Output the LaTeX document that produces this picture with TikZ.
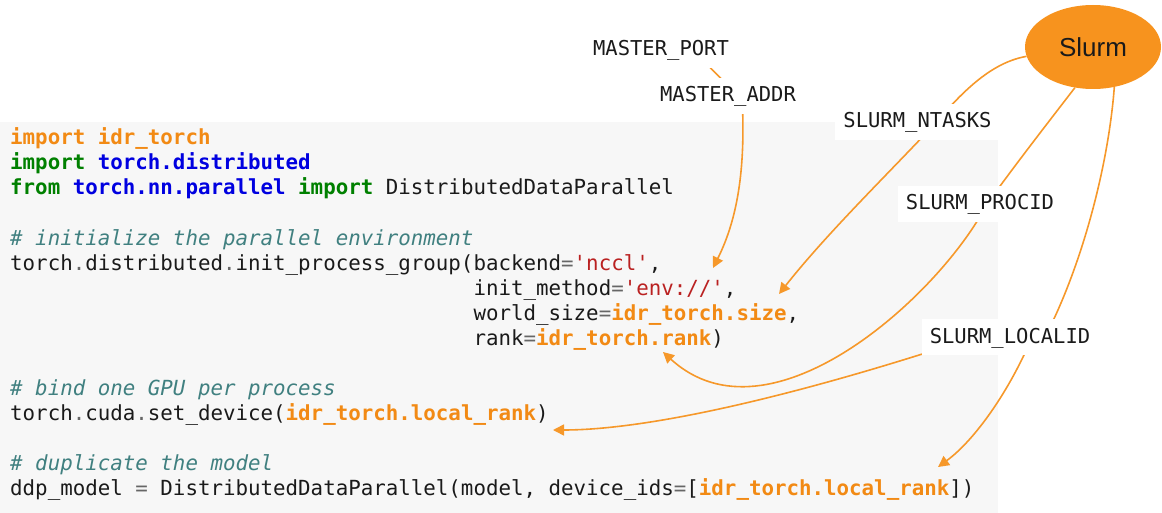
\documentclass[tikz,border=0pt]{standalone}
\usepackage{fontspec}
\setmainfont{Liberation Sans}
\setmonofont{DejaVu Sans Mono}
\usetikzlibrary{arrows.meta,shapes.geometric}
\definecolor{kwgreen}{HTML}{008000}
\definecolor{nsblue}{HTML}{0000E0}
\definecolor{cmteal}{HTML}{408080}
\definecolor{strred}{HTML}{BA2121}
\definecolor{hlorange}{RGB}{242,138,20}
\definecolor{opgray}{HTML}{666666}
\definecolor{codetext}{HTML}{1A1A1A}
\definecolor{codebg}{HTML}{F7F7F7}
\definecolor{slurmorange}{RGB}{247,147,30}
\definecolor{linkorange}{RGB}{246,152,42}
\newcommand\codekw[1]{{\color{kwgreen}\bfseries #1}}
\newcommand\codens[1]{{\color{nsblue}\bfseries #1}}
\newcommand\codecm[1]{{\color{cmteal}\itshape #1}}
\newcommand\codestr[1]{{\color{strred}#1}}
\newcommand\codehl[1]{{\color{hlorange}\bfseries #1}}
\newcommand\codeop[1]{{\color{opgray}#1}}
\newcommand\codeindent{\hphantom{torch.distributed.init\_process\_group(}}
\pgfdeclarelayer{bg}
\pgfdeclarelayer{lines}
\pgfsetlayers{bg,lines,main}
\tikzset{
  code/.style={anchor=base west, inner sep=0pt, font=\ttfamily\fontsize{20.8}{25}\selectfont, text=codetext},
  lbl/.style={anchor=base, fill=white, inner xsep=8pt, inner ysep=8pt, text height=16pt, text depth=4pt, font=\ttfamily\fontsize{20.5}{25}\selectfont, text=codetext},
  conn/.style={draw=linkorange, line width=1.6pt},
  arr/.style={-{Triangle[length=11pt,width=11pt]}},
}
\begin{document}
\begin{tikzpicture}[x=1pt,y=-1pt]
\useasboundingbox (0,0) rectangle (1162,513);
\begin{pgfonlayer}{bg}
\fill[codebg] (0,122) rectangle (998,513);
\end{pgfonlayer}

% code
\node[code] (l1)  at (10,145) {\codehl{import idr\_torch}};
\node[code] (l2)  at (10,170) {\codekw{import} \codens{torch.distributed}};
\node[code] (l3)  at (10,195) {\codekw{from} \codens{torch.nn.parallel} \codekw{import} DistributedDataParallel};
\node[code] (l5)  at (10,245) {\codecm{\# initialize the parallel environment}};
\node[code] (l6)  at (10,270) {torch\codeop{.}distributed\codeop{.}init\_process\_group(backend\codeop{=}\codestr{'nccl'},};
\node[code] (l7)  at (10,295) {\codeindent init\_method\codeop{=}\codestr{'env://'},};
\node[code] (l8)  at (10,320) {\codeindent world\_size\codeop{=}\codehl{idr\_torch.size},};
\node[code] (l9)  at (10,345) {\codeindent rank\codeop{=}\codehl{idr\_torch.rank})};
\node[code] (l11) at (10,395) {\codecm{\# bind one GPU per process}};
\node[code] (l12) at (10,420) {torch\codeop{.}cuda\codeop{.}set\_device(\codehl{idr\_torch.local\_rank})};
\node[code] (l14) at (10,470) {\codecm{\# duplicate the model}};
\node[code] (l15) at (10,495) {ddp\_model \codeop{=} DistributedDataParallel(model, device\_ids\codeop{=}[\codehl{idr\_torch.local\_rank}])};

% Slurm and labels
\node[ellipse, fill=slurmorange, minimum width=136pt, minimum height=84pt, inner sep=0pt,
      font=\fontsize{26}{30}\selectfont, text=codetext] (slurm) at (1093,47) {Slurm};
\node[lbl] (mport)   at (661,56)   {MASTER\_PORT};
\node[lbl] (maddr)   at (728,102)  {MASTER\_ADDR};
\node[lbl] (ntasks)  at (917.5,128) {SLURM\_NTASKS};
\node[lbl] (procid)  at (980,210)  {SLURM\_PROCID};
\node[lbl] (localid) at (1010,343) {SLURM\_LOCALID};

% targets
\coordinate (t_nccl)  at (713,268);
\coordinate (t_size)  at (779,294);
\coordinate (t_rank)  at (663,352);
\coordinate (t_set)   at (553,430);
\coordinate (t_local) at (938,467);

\begin{pgfonlayer}{lines}
\draw[conn] ([xshift=32pt]mport.center) -- ([xshift=10pt]maddr.center);
\draw[conn,arr] ([xshift=14pt]maddr.center) .. controls (746,170) and (737,220) .. (t_nccl);

\draw[conn] (slurm.188) .. controls (995,62) and (968,85) .. ([xshift=19pt]ntasks.center);
\draw[conn,arr] ([xshift=19pt]ntasks.center) .. controls (890,172) and (828,232) .. (t_size);

\draw[conn] (slurm.246) .. controls (1050,120) and (1015,165) .. ([xshift=7pt]procid.center);
\draw[conn,arr] ([xshift=7pt]procid.center) .. controls (940,295) and (770,450) .. (t_rank);

\draw[conn] (slurm.298) .. controls (1108,170) and (1080,270) .. ([xshift=35pt]localid.center);
\draw[conn,arr] ([xshift=-35pt]localid.center) .. controls (800,395) and (650,430) .. (t_set);
\draw[conn,arr] ([xshift=22pt]localid.center) .. controls (1010,390) and (975,440) .. (t_local);
\end{pgfonlayer}
\end{tikzpicture}
\end{document}
